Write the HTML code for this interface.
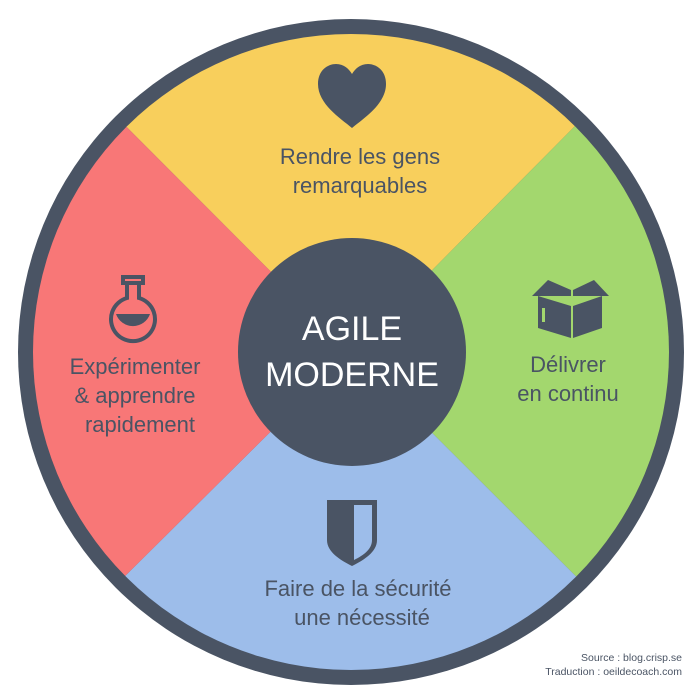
<!DOCTYPE html>
<html><head><meta charset="utf-8"><style>
html,body{margin:0;padding:0;background:#fff;width:700px;height:700px;overflow:hidden}
svg{display:block}
svg text{font-family:"Liberation Sans",sans-serif;fill:#4a5464}
</style></head><body>
<svg width="700" height="700" viewBox="0 0 700 700">
<defs><clipPath id="c"><circle cx="351" cy="352" r="318"/></clipPath></defs>
<circle cx="351" cy="352" r="333" fill="#4a5464"/>
<g clip-path="url(#c)">
<polygon points="351,352 0,0 700,0" fill="#f8cf5c"/>
<polygon points="351,352 700,0 700,700" fill="#a3d76e"/>
<polygon points="351,352 700,700 0,700" fill="#9dbdea"/>
<polygon points="351,352 0,700 0,0" fill="#f87777"/>
</g>
<circle cx="352" cy="352" r="114" fill="#4a5464"/>
<text x="352" y="340" text-anchor="middle" font-size="34" style="fill:#fff">AGILE</text>
<text x="352" y="386" text-anchor="middle" font-size="34" style="fill:#fff">MODERNE</text>
<path d="M352 128 C340 118 318 104 318 84 C318 70 328 64 336 64 C344 64 349 69 352 74 C355 69 360 64 368 64 C376 64 386 70 386 84 C386 104 364 118 352 128 Z" fill="#4a5464"/>
<text x="360" y="164" text-anchor="middle" font-size="22">Rendre les gens</text>
<text x="360" y="193" text-anchor="middle" font-size="22">remarquables</text>
<g fill="none" stroke="#4a5464" stroke-width="4">
<rect x="123" y="277" width="20" height="6"/>
<path d="M127 283 V298 A22 22 0 1 0 139 298 V283"/>
</g>
<path d="M116 314 H150 A18 18 0 0 1 116 314 Z" fill="#4a5464"/>
<text x="135" y="374" text-anchor="middle" font-size="22">Expérimenter</text>
<text x="135" y="403" text-anchor="middle" font-size="22">&amp; apprendre</text>
<text x="140" y="432" text-anchor="middle" font-size="22">rapidement</text>
<g fill="#4a5464">
<polygon points="538,296 571,306 571,338 538,328"/>
<polygon points="573,306 602,296 602,328 573,338"/>
<polygon points="532,296 548,280 571,290 571,296"/>
<polygon points="573,290 594,280 609,296 573,296"/>
</g>
<rect x="542" y="308" width="3" height="14" fill="#a3d76e"/>
<text x="568" y="372" text-anchor="middle" font-size="22">Délivrer</text>
<text x="568" y="401" text-anchor="middle" font-size="22">en continu</text>
<path d="M327 500 H377 V540 C377 552 364 560 352 566 C340 560 327 552 327 540 Z" fill="#4a5464"/>
<path d="M354 505 H372 V540 C372 549 364 555 354 560 Z" fill="#9dbdea"/>
<text x="358" y="596" text-anchor="middle" font-size="22">Faire de la sécurité</text>
<text x="362" y="625" text-anchor="middle" font-size="22">une nécessité</text>
<text x="682" y="661" text-anchor="end" font-size="10.5">Source : blog.crisp.se</text>
<text x="682" y="675" text-anchor="end" font-size="10.5">Traduction : oeildecoach.com</text>
</svg>
</body></html>
